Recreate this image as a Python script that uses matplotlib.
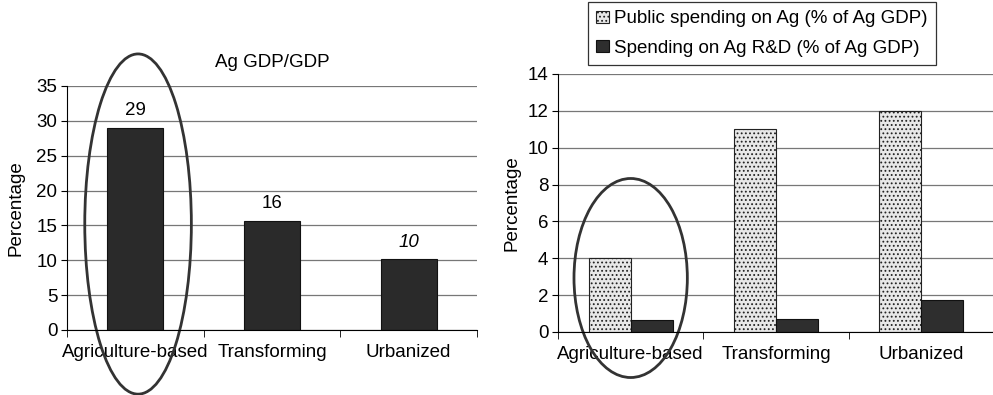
import matplotlib
matplotlib.use("Agg")
import matplotlib.pyplot as plt
from matplotlib.patches import Ellipse
import numpy as np

plt.rcParams['font.family'] = ['Liberation Sans', 'DejaVu Sans']
plt.rcParams['hatch.color'] = '#b8b8b8'
plt.rcParams['hatch.linewidth'] = 0.8

categories = ["Agriculture-based", "Transforming", "Urbanized"]
ag_gdp_share = [29.0, 15.7, 10.2]
ag_gdp_labels = ["29", "16", "10"]
public_spending = [4.0, 11.0, 12.0]
rd_spending = [0.65, 0.7, 1.75]
legend_labels = ["Public spending on Ag (% of Ag GDP)", "Spending on Ag R&D (% of Ag GDP)"]

W, H = 993, 395
FS = 13.5
fig = plt.figure(figsize=(W/100, H/100), dpi=100)

def px_axes(x0, x1, y0, y1):
    return fig.add_axes([x0/W, 1-y1/H, (x1-x0)/W, (y1-y0)/H])

def style(ax, ymax, step):
    ax.set_xlim(-0.5, 2.5)
    ax.set_ylim(0, ymax)
    ax.set_yticks(np.arange(0, ymax+0.1, step))
    ax.yaxis.grid(True, color='#777777', linewidth=0.9)
    ax.set_axisbelow(True)
    for s in ['top', 'right']:
        ax.spines[s].set_visible(False)
    ax.spines['left'].set_color('black')
    ax.spines['bottom'].set_color('black')
    ax.set_xticks(range(3))
    ax.set_xticklabels(categories, fontsize=FS)
    ax.tick_params(axis='x', which='major', length=0, pad=10)
    ax.set_xticks([-0.5, 0.5, 1.5, 2.5], minor=True)
    ax.tick_params(axis='x', which='minor', length=5, direction='out')
    ax.tick_params(axis='y', labelsize=FS, length=4, direction='out', pad=3)
    ax.set_ylabel("Percentage", fontsize=FS)

x = np.arange(3)

# Left chart
ax1 = px_axes(67, 477, 86, 330)
style(ax1, 35, 5)
ax1.bar(x, ag_gdp_share, width=0.41, color='#2a2a2a', edgecolor='#111111', linewidth=0.8)
for i, (v, lab) in enumerate(zip(ag_gdp_share, ag_gdp_labels)):
    ax1.text(i, v + 1.2, lab, ha='center', va='bottom', fontsize=FS,
             style='italic' if i == 2 else 'normal')
ax1.set_title("Ag GDP/GDP", fontsize=FS, pad=14)
ax1.yaxis.set_label_coords(-0.103, 0.5)
ax1.add_patch(Ellipse((0.02, 15.2), 0.78, 48.8, fill=False, edgecolor='#333333',
                      linewidth=2, clip_on=False))

# Right chart
ax2 = px_axes(558, 994, 74, 332)
style(ax2, 14, 2)
bw = 0.29
b1 = ax2.bar(x - bw/2, public_spending, width=bw, color='#e8e8e8', edgecolor='#222222',
             linewidth=0.8, hatch='....', label=legend_labels[0])
b2 = ax2.bar(x + bw/2, rd_spending, width=bw, color='#2e2e2e', edgecolor='#111111',
             linewidth=0.8, label=legend_labels[1])
ax2.yaxis.set_label_coords(-0.085, 0.5)
ax2.add_patch(Ellipse((0.0, 2.93), 0.78, 10.8, fill=False, edgecolor='#333333',
                      linewidth=2, clip_on=False))

leg = fig.legend(handles=[b1, b2], labels=legend_labels, loc='upper left',
                 bbox_to_anchor=(588/W, 1-2/H), borderaxespad=0, fontsize=FS, frameon=True,
                 fancybox=False, edgecolor='black', handlelength=0.65, handleheight=0.65,
                 handletextpad=0.3, borderpad=0.45, labelspacing=0.65)
leg.get_frame().set_linewidth(0.9)

fig.savefig("out.png", dpi=100)
